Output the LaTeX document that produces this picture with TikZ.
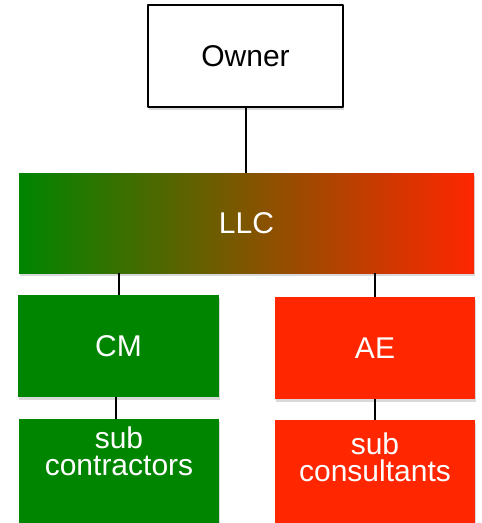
\documentclass[tikz,border=0pt]{standalone}
\usepackage{fontspec}
\setmainfont{Liberation Sans}
\usetikzlibrary{shadows}
\definecolor{cmgreen}{RGB}{0,133,0}
\definecolor{aered}{RGB}{255,38,0}
\tikzset{
  box/.style={rectangle, minimum width=200pt, minimum height=102pt, inner sep=0pt,
    text=white, drop shadow={shadow xshift=1pt, shadow yshift=-3pt, opacity=.3}},
  greenbox/.style={box, fill=cmgreen},
  redbox/.style={box, fill=aered},
  subtext/.style={text=white, align=center, yshift=20pt},
  link/.style={line width=2pt}
}
\begin{document}
\begin{tikzpicture}[x=1pt, y=-1pt, font=\fontsize{30}{27}\selectfont, line join=round]
  \useasboundingbox (0,0) rectangle (482,523);
  \node[box, fill=white, text=black, draw=black, line width=1.6pt, minimum width=195pt] (owner) at (245.5,56) {Owner};
  \node[box, minimum width=455pt, minimum height=100pt, left color=cmgreen, right color=aered] (llc) at (246.5,223) {LLC};
  \node[greenbox, minimum width=201pt] (cm) at (118.5,346) {CM};
  \node[redbox] (ae) at (375,348) {AE};
  \node[greenbox, minimum height=104pt, label={[subtext]center:{sub\\contractors}}] (subcontr) at (119,471) {};
  \node[redbox, minimum height=104pt, label={[subtext, yshift=-5pt]center:{sub\\consultants}}] (subcons) at (375,472) {};
  % connectors
  \draw[link] (owner.south) -- (owner.south |- llc.north);
  \draw[link] (cm.north) -- (cm.north |- llc.south);
  \draw[link] (ae.north) -- (ae.north |- llc.south);
  \draw[link] (cm.south) ++(-3,0) coordinate (cmfoot) -- (cmfoot |- subcontr.north);
  \draw[link] (ae.south) -- (ae.south |- subcons.north);
\end{tikzpicture}
\end{document}
